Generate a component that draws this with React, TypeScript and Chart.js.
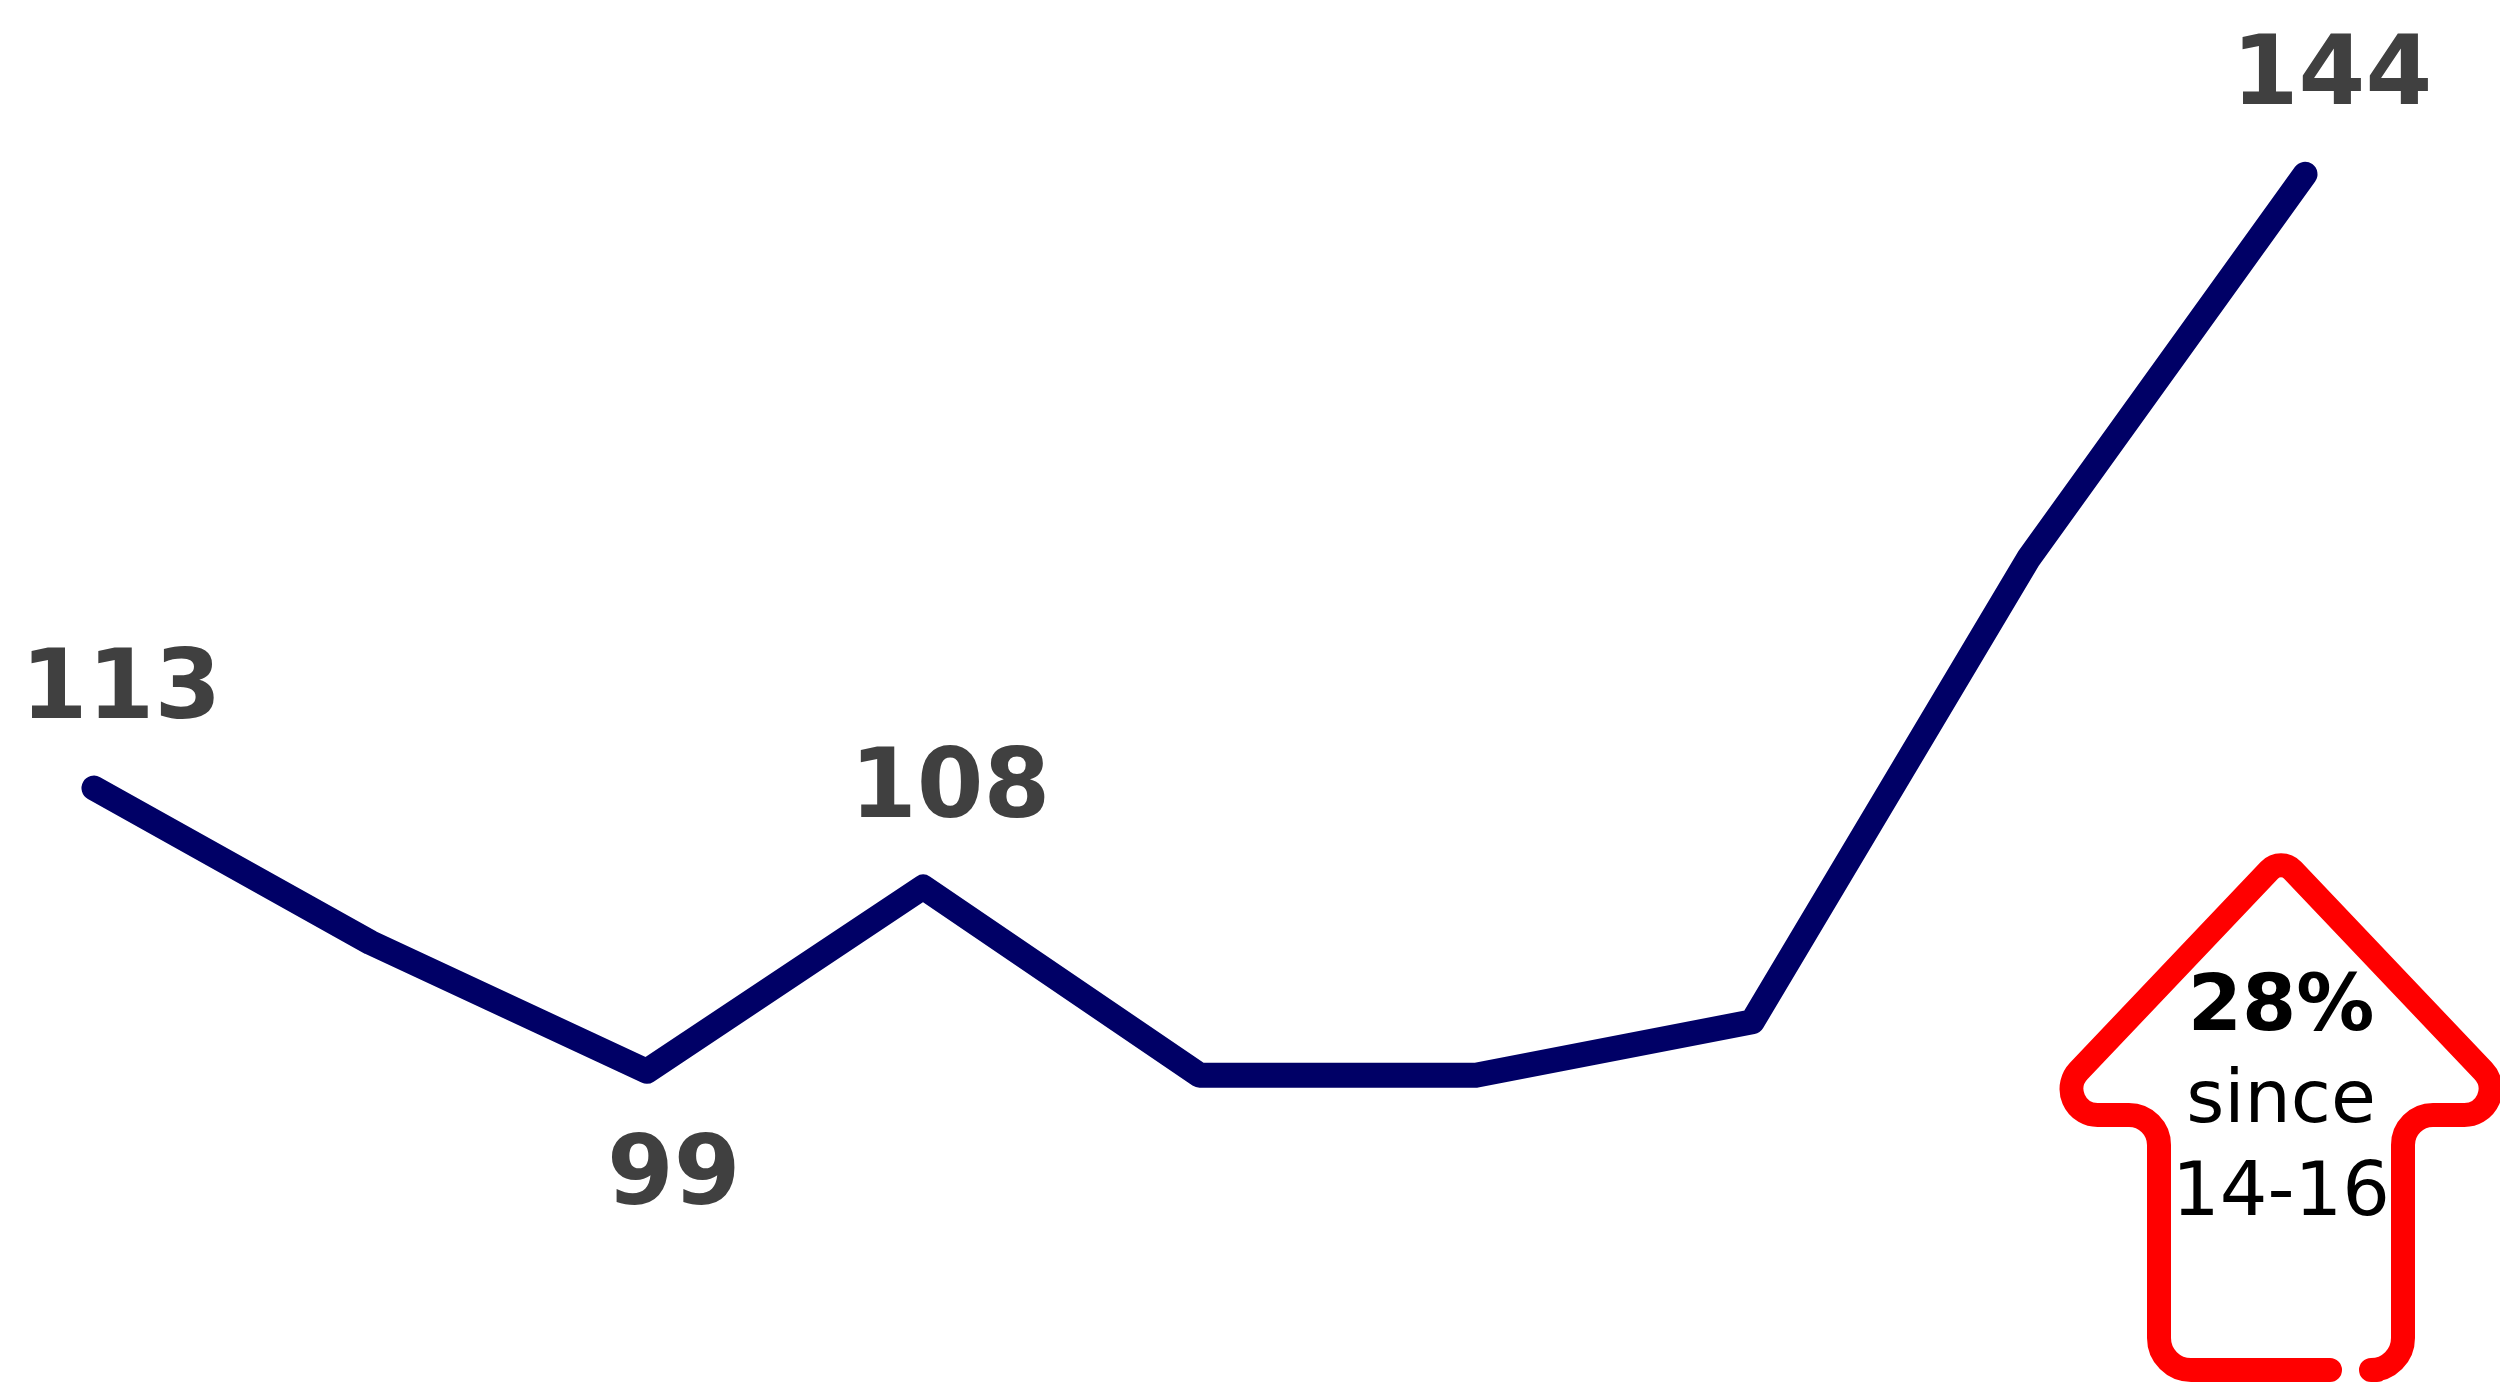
import React, { useEffect, useRef } from "react";
import { Chart, registerables } from "chart.js";

Chart.register(...registerables);

const categories = ["P1", "P2", "P3", "P4", "P5", "P6", "P7", "P8", "P9"];
const values = [113, 105.2, 98.7, 108, 98.5, 98.5, 101.2, 124.6, 144];
const labelTexts = ["113", "", "99", "108", "", "", "", "", "144"];
const labelBelow = [false, false, true, false, false, false, false, false, false];
const arrowLines = ["28%", "since", "14-16"];

const LINE_COLOR = "#000066";
const LABEL_COLOR = "#404040";
const ARROW_COLOR = "#ff0000";

const labelPlugin = {
  id: "valueLabels",
  afterDatasetsDraw(chart: any) {
    const ctx = chart.ctx;
    const meta = chart.getDatasetMeta(0);
    ctx.save();
    ctx.fillStyle = LABEL_COLOR;
    ctx.font = "bold 96px 'DejaVu Sans'";
    ctx.textAlign = "center";
    ctx.textBaseline = "alphabetic";
    meta.data.forEach((pt: any, i: number) => {
      const t = labelTexts[i];
      if (!t) return;
      const x = pt.x + 27;
      const y = labelBelow[i] ? pt.y + 133 : pt.y - 70;
      ctx.fillText(t, x, y);
    });
    ctx.restore();
  },
};

const arrowPlugin = {
  id: "arrowNote",
  afterDraw(chart: any) {
    const ctx = chart.ctx;
    const cx = 2281;
    const tipY = 858;
    const baseY = 1115;
    const headHalf = 244;
    const shaftHalf = 122;
    const bottomY = 1370;
    ctx.save();
    ctx.strokeStyle = ARROW_COLOR;
    ctx.lineWidth = 24;
    ctx.lineCap = "round";
    ctx.lineJoin = "round";
    ctx.beginPath();
    ctx.moveTo(cx + 96, bottomY);
    ctx.arcTo(cx + shaftHalf, bottomY, cx + shaftHalf, baseY, 32);
    ctx.arcTo(cx + shaftHalf, baseY, cx + headHalf, baseY, 30);
    ctx.arcTo(cx + headHalf, baseY, cx, tipY, 26);
    ctx.arcTo(cx, tipY, cx - headHalf, baseY, 16);
    ctx.arcTo(cx - headHalf, baseY, cx - shaftHalf, baseY, 26);
    ctx.arcTo(cx - shaftHalf, baseY, cx - shaftHalf, bottomY, 30);
    ctx.arcTo(cx - shaftHalf, bottomY, cx + 49, bottomY, 32);
    ctx.lineTo(cx + 49, bottomY);
    ctx.stroke();

    ctx.fillStyle = "#000000";
    ctx.textAlign = "center";
    ctx.textBaseline = "alphabetic";
    ctx.font = "bold 78px 'DejaVu Sans'";
    ctx.fillText(arrowLines[0], cx, 1030);
    ctx.font = "73px 'DejaVu Sans'";
    ctx.fillText(arrowLines[1], cx, 1122);
    ctx.font = "75px 'DejaVu Sans'";
    ctx.fillText(arrowLines[2], cx, 1215);
    ctx.restore();
  },
};

export default function App() {
  const ref = useRef<HTMLCanvasElement | null>(null);
  useEffect(() => {
    if (!ref.current) return;
    const chart = new Chart(ref.current, {
      type: "line",
      data: {
        labels: categories,
        datasets: [
          {
            data: values,
            borderColor: LINE_COLOR,
            borderWidth: 25,
            borderCapStyle: "round",
            borderJoinStyle: "round",
            pointRadius: 0,
            pointHoverRadius: 0,
            tension: 0,
            fill: false,
            clip: false as any,
          },
        ],
      },
      options: {
        animation: false,
        responsive: false,
        devicePixelRatio: 1,
        events: [],
        layout: { padding: { left: 94, right: 195, top: 0, bottom: 0 } },
        plugins: { legend: { display: false }, tooltip: { enabled: false }, title: { display: false } },
        scales: {
          x: { type: "category", display: false, offset: false },
          y: { display: false, min: 82.5, max: 152.8 },
        },
      },
      plugins: [labelPlugin, arrowPlugin],
    });
    return () => chart.destroy();
  }, []);
  return (
    <div style={{ position: "absolute", left: 0, top: 0, width: 2500, height: 1392, background: "#ffffff" }}>
      <canvas ref={ref} width={2500} height={1392} style={{ display: "block", width: 2500, height: 1392 }} />
    </div>
  );
}
